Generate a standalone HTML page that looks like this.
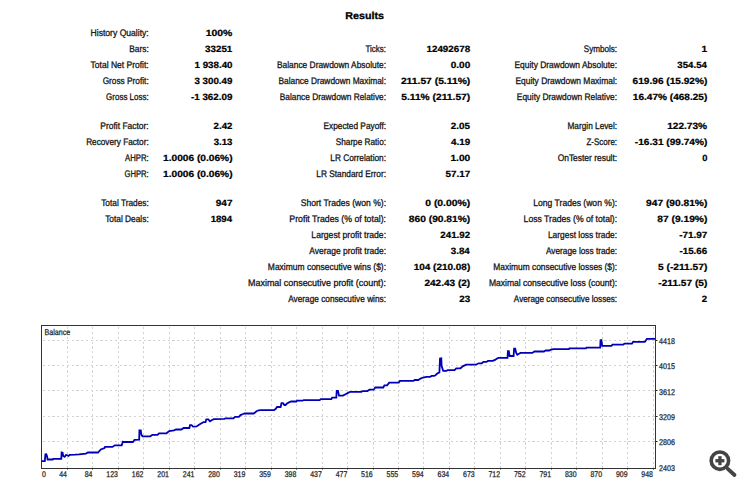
<!DOCTYPE html>
<html><head><meta charset="utf-8"><style>
html,body{margin:0;padding:0;background:#fff;}
body{width:750px;height:490px;overflow:hidden;position:relative;}
svg{position:absolute;left:0;top:0;}
text{font-family:"Liberation Sans",sans-serif;text-rendering:geometricPrecision;}
.l{font-size:9.5px;fill:#141414;stroke:#141414;stroke-width:0.3px;}
.v{font-size:9.1px;font-weight:bold;fill:#000;stroke:#000;stroke-width:0.22px;}
.t{font-size:10px;font-weight:bold;fill:#000;stroke:#000;stroke-width:0.3px;}
.ax{font-size:8.3px;fill:#1e1e1e;stroke:#1e1e1e;stroke-width:0.25px;}
.g{stroke:#d2d2d2;stroke-width:1;stroke-dasharray:2.2 2.6;shape-rendering:crispEdges;}
</style></head><body>
<svg width="750" height="490" viewBox="0 0 750 490">
<text class="t" transform="translate(364.6,18.8) scale(1.07,1)" text-anchor="middle">Results</text>
<text class="l" transform="translate(148.73,36) scale(0.9033,1)" text-anchor="end">History Quality:</text>
<text class="v" transform="translate(232.31,36) scale(1.1454,1)" text-anchor="end">100%</text>
<text class="l" transform="translate(148.72,52) scale(0.8798,1)" text-anchor="end">Bars:</text>
<text class="v" transform="translate(232.31,52) scale(1.0757,1)" text-anchor="end">33251</text>
<text class="l" transform="translate(148.73,68) scale(0.8956,1)" text-anchor="end">Total Net Profit:</text>
<text class="v" transform="translate(232.52,68) scale(1.0720,1)" text-anchor="end">1 938.40</text>
<text class="l" transform="translate(148.71,84) scale(0.8726,1)" text-anchor="end">Gross Profit:</text>
<text class="v" transform="translate(232.41,84) scale(1.0712,1)" text-anchor="end">3 300.49</text>
<text class="l" transform="translate(148.69,100) scale(0.8407,1)" text-anchor="end">Gross Loss:</text>
<text class="v" transform="translate(232.42,100) scale(1.0789,1)" text-anchor="end">-1 362.09</text>
<text class="l" transform="translate(385.99,52) scale(0.8397,1)" text-anchor="end">Ticks:</text>
<text class="v" transform="translate(470.12,52) scale(1.0779,1)" text-anchor="end">12492678</text>
<text class="l" transform="translate(386.02,68) scale(0.8822,1)" text-anchor="end">Balance Drawdown Absolute:</text>
<text class="v" transform="translate(470.23,68) scale(1.0994,1)" text-anchor="end">0.00</text>
<text class="l" transform="translate(386.01,84) scale(0.8779,1)" text-anchor="end">Balance Drawdown Maximal:</text>
<text class="v" transform="translate(470.24,84) scale(1.1334,1)" text-anchor="end">211.57 (5.11%)</text>
<text class="l" transform="translate(386.01,100) scale(0.8743,1)" text-anchor="end">Balance Drawdown Relative:</text>
<text class="v" transform="translate(470.24,100) scale(1.1283,1)" text-anchor="end">5.11% (211.57)</text>
<text class="l" transform="translate(617.10,52) scale(0.8530,1)" text-anchor="end">Symbols:</text>
<text class="v" transform="translate(707.11,52) scale(1.1111,1)" text-anchor="end">1</text>
<text class="l" transform="translate(617.12,68) scale(0.8880,1)" text-anchor="end">Equity Drawdown Absolute:</text>
<text class="v" transform="translate(706.89,68) scale(1.0612,1)" text-anchor="end">354.54</text>
<text class="l" transform="translate(617.12,84) scale(0.8878,1)" text-anchor="end">Equity Drawdown Maximal:</text>
<text class="v" transform="translate(707.33,84) scale(1.1109,1)" text-anchor="end">619.96 (15.92%)</text>
<text class="l" transform="translate(617.12,100) scale(0.8832,1)" text-anchor="end">Equity Drawdown Relative:</text>
<text class="v" transform="translate(707.33,100) scale(1.1083,1)" text-anchor="end">16.47% (468.25)</text>
<text class="l" transform="translate(148.72,129) scale(0.8906,1)" text-anchor="end">Profit Factor:</text>
<text class="v" transform="translate(232.41,129) scale(1.0636,1)" text-anchor="end">2.42</text>
<text class="l" transform="translate(148.71,145) scale(0.8648,1)" text-anchor="end">Recovery Factor:</text>
<text class="v" transform="translate(232.41,145) scale(1.0575,1)" text-anchor="end">3.13</text>
<text class="l" transform="translate(148.67,161) scale(0.8140,1)" text-anchor="end">AHPR:</text>
<text class="v" transform="translate(232.54,161) scale(1.1171,1)" text-anchor="end">1.0006 (0.06%)</text>
<text class="l" transform="translate(148.66,177) scale(0.8000,1)" text-anchor="end">GHPR:</text>
<text class="v" transform="translate(232.54,177) scale(1.1171,1)" text-anchor="end">1.0006 (0.06%)</text>
<text class="l" transform="translate(386.01,129) scale(0.8720,1)" text-anchor="end">Expected Payoff:</text>
<text class="v" transform="translate(470.01,129) scale(1.0862,1)" text-anchor="end">2.05</text>
<text class="l" transform="translate(386.01,145) scale(0.8651,1)" text-anchor="end">Sharpe Ratio:</text>
<text class="v" transform="translate(470.12,145) scale(1.0800,1)" text-anchor="end">4.19</text>
<text class="l" transform="translate(386.01,161) scale(0.8722,1)" text-anchor="end">LR Correlation:</text>
<text class="v" transform="translate(470.24,161) scale(1.1183,1)" text-anchor="end">1.00</text>
<text class="l" transform="translate(386.01,177) scale(0.8737,1)" text-anchor="end">LR Standard Error:</text>
<text class="v" transform="translate(470.23,177) scale(1.0852,1)" text-anchor="end">57.17</text>
<text class="l" transform="translate(617.11,129) scale(0.8707,1)" text-anchor="end">Margin Level:</text>
<text class="v" transform="translate(707.11,129) scale(1.1130,1)" text-anchor="end">122.73%</text>
<text class="l" transform="translate(617.09,145) scale(0.8399,1)" text-anchor="end">Z-Score:</text>
<text class="v" transform="translate(707.33,145) scale(1.1113,1)" text-anchor="end">-16.31 (99.74%)</text>
<text class="l" transform="translate(617.12,161) scale(0.8864,1)" text-anchor="end">OnTester result:</text>
<text class="v" transform="translate(707.31,161) scale(1.0222,1)" text-anchor="end">0</text>
<text class="l" transform="translate(148.71,206) scale(0.8731,1)" text-anchor="end">Total Trades:</text>
<text class="v" transform="translate(232.53,206) scale(1.1020,1)" text-anchor="end">947</text>
<text class="l" transform="translate(148.71,222) scale(0.8773,1)" text-anchor="end">Total Deals:</text>
<text class="v" transform="translate(232.09,222) scale(1.0603,1)" text-anchor="end">1894</text>
<text class="l" transform="translate(386.03,206) scale(0.9027,1)" text-anchor="end">Short Trades (won %):</text>
<text class="v" transform="translate(470.24,206) scale(1.1414,1)" text-anchor="end">0 (0.00%)</text>
<text class="l" transform="translate(386.04,222) scale(0.9200,1)" text-anchor="end">Profit Trades (% of total):</text>
<text class="v" transform="translate(470.24,222) scale(1.1238,1)" text-anchor="end">860 (90.81%)</text>
<text class="l" transform="translate(386.03,238) scale(0.9062,1)" text-anchor="end">Largest profit trade:</text>
<text class="v" transform="translate(470.11,238) scale(1.0693,1)" text-anchor="end">241.92</text>
<text class="l" transform="translate(386.03,254) scale(0.8946,1)" text-anchor="end">Average profit trade:</text>
<text class="v" transform="translate(469.79,254) scale(1.0734,1)" text-anchor="end">3.84</text>
<text class="l" transform="translate(386.02,270) scale(0.8918,1)" text-anchor="end">Maximum consecutive wins ($):</text>
<text class="v" transform="translate(470.23,270) scale(1.0965,1)" text-anchor="end">104 (210.08)</text>
<text class="l" transform="translate(386.06,286) scale(0.9404,1)" text-anchor="end">Maximal consecutive profit (count):</text>
<text class="v" transform="translate(470.23,286) scale(1.1049,1)" text-anchor="end">242.43 (2)</text>
<text class="l" transform="translate(386.01,302) scale(0.8712,1)" text-anchor="end">Average consecutive wins:</text>
<text class="v" transform="translate(470.12,302) scale(1.0825,1)" text-anchor="end">23</text>
<text class="l" transform="translate(617.13,206) scale(0.9017,1)" text-anchor="end">Long Trades (won %):</text>
<text class="v" transform="translate(707.34,206) scale(1.1220,1)" text-anchor="end">947 (90.81%)</text>
<text class="l" transform="translate(617.14,222) scale(0.9085,1)" text-anchor="end">Loss Trades (% of total):</text>
<text class="v" transform="translate(707.34,222) scale(1.1250,1)" text-anchor="end">87 (9.19%)</text>
<text class="l" transform="translate(617.12,238) scale(0.8854,1)" text-anchor="end">Largest loss trade:</text>
<text class="v" transform="translate(707.33,238) scale(1.0909,1)" text-anchor="end">-71.97</text>
<text class="l" transform="translate(617.11,254) scale(0.8718,1)" text-anchor="end">Average loss trade:</text>
<text class="v" transform="translate(707.21,254) scale(1.0748,1)" text-anchor="end">-15.66</text>
<text class="l" transform="translate(617.12,270) scale(0.8814,1)" text-anchor="end">Maximum consecutive losses ($):</text>
<text class="v" transform="translate(707.34,270) scale(1.1218,1)" text-anchor="end">5 (-211.57)</text>
<text class="l" transform="translate(617.13,286) scale(0.8995,1)" text-anchor="end">Maximal consecutive loss (count):</text>
<text class="v" transform="translate(707.33,286) scale(1.1149,1)" text-anchor="end">-211.57 (5)</text>
<text class="l" transform="translate(617.10,302) scale(0.8588,1)" text-anchor="end">Average consecutive losses:</text>
<text class="v" transform="translate(707.21,302) scale(1.0652,1)" text-anchor="end">2</text>
<g>
<line x1="67.5" y1="325" x2="67.5" y2="468" class="g" stroke-dashoffset="-2.2"/>
<line x1="92.5" y1="325" x2="92.5" y2="468" class="g" stroke-dashoffset="-2.2"/>
<line x1="118.5" y1="325" x2="118.5" y2="468" class="g" stroke-dashoffset="-2.2"/>
<line x1="143.5" y1="325" x2="143.5" y2="468" class="g" stroke-dashoffset="-2.2"/>
<line x1="169.5" y1="325" x2="169.5" y2="468" class="g" stroke-dashoffset="-2.2"/>
<line x1="194.5" y1="325" x2="194.5" y2="468" class="g" stroke-dashoffset="-2.2"/>
<line x1="220.5" y1="325" x2="220.5" y2="468" class="g" stroke-dashoffset="-2.2"/>
<line x1="245.5" y1="325" x2="245.5" y2="468" class="g" stroke-dashoffset="-2.2"/>
<line x1="271.5" y1="325" x2="271.5" y2="468" class="g" stroke-dashoffset="-2.2"/>
<line x1="296.5" y1="325" x2="296.5" y2="468" class="g" stroke-dashoffset="-2.2"/>
<line x1="322.5" y1="325" x2="322.5" y2="468" class="g" stroke-dashoffset="-2.2"/>
<line x1="347.5" y1="325" x2="347.5" y2="468" class="g" stroke-dashoffset="-2.2"/>
<line x1="373.5" y1="325" x2="373.5" y2="468" class="g" stroke-dashoffset="-2.2"/>
<line x1="398.5" y1="325" x2="398.5" y2="468" class="g" stroke-dashoffset="-2.2"/>
<line x1="423.5" y1="325" x2="423.5" y2="468" class="g" stroke-dashoffset="-2.2"/>
<line x1="449.5" y1="325" x2="449.5" y2="468" class="g" stroke-dashoffset="-2.2"/>
<line x1="474.5" y1="325" x2="474.5" y2="468" class="g" stroke-dashoffset="-2.2"/>
<line x1="500.5" y1="325" x2="500.5" y2="468" class="g" stroke-dashoffset="-2.2"/>
<line x1="525.5" y1="325" x2="525.5" y2="468" class="g" stroke-dashoffset="-2.2"/>
<line x1="551.5" y1="325" x2="551.5" y2="468" class="g" stroke-dashoffset="-2.2"/>
<line x1="576.5" y1="325" x2="576.5" y2="468" class="g" stroke-dashoffset="-2.2"/>
<line x1="602.5" y1="325" x2="602.5" y2="468" class="g" stroke-dashoffset="-2.2"/>
<line x1="627.5" y1="325" x2="627.5" y2="468" class="g" stroke-dashoffset="-2.2"/>
<line x1="653.5" y1="325" x2="653.5" y2="468" class="g" stroke-dashoffset="-2.2"/>
<line x1="41" y1="340.5" x2="655" y2="340.5" class="g" stroke-dashoffset="-1.7"/>
<line x1="41" y1="365.5" x2="655" y2="365.5" class="g" stroke-dashoffset="-1.7"/>
<line x1="41" y1="390.5" x2="655" y2="390.5" class="g" stroke-dashoffset="-1.7"/>
<line x1="41" y1="416.5" x2="655" y2="416.5" class="g" stroke-dashoffset="-1.7"/>
<line x1="41" y1="441.5" x2="655" y2="441.5" class="g" stroke-dashoffset="-1.7"/>
<rect x="41.5" y="325.5" width="614" height="143" fill="none" stroke="#333" stroke-width="1" shape-rendering="crispEdges"/>
<rect x="67" y="468" width="1" height="1.5" fill="#222"/>
<rect x="92" y="468" width="1" height="1.5" fill="#222"/>
<rect x="118" y="468" width="1" height="1.5" fill="#222"/>
<rect x="143" y="468" width="1" height="1.5" fill="#222"/>
<rect x="169" y="468" width="1" height="1.5" fill="#222"/>
<rect x="194" y="468" width="1" height="1.5" fill="#222"/>
<rect x="220" y="468" width="1" height="1.5" fill="#222"/>
<rect x="245" y="468" width="1" height="1.5" fill="#222"/>
<rect x="271" y="468" width="1" height="1.5" fill="#222"/>
<rect x="296" y="468" width="1" height="1.5" fill="#222"/>
<rect x="322" y="468" width="1" height="1.5" fill="#222"/>
<rect x="347" y="468" width="1" height="1.5" fill="#222"/>
<rect x="373" y="468" width="1" height="1.5" fill="#222"/>
<rect x="398" y="468" width="1" height="1.5" fill="#222"/>
<rect x="423" y="468" width="1" height="1.5" fill="#222"/>
<rect x="449" y="468" width="1" height="1.5" fill="#222"/>
<rect x="474" y="468" width="1" height="1.5" fill="#222"/>
<rect x="500" y="468" width="1" height="1.5" fill="#222"/>
<rect x="525" y="468" width="1" height="1.5" fill="#222"/>
<rect x="551" y="468" width="1" height="1.5" fill="#222"/>
<rect x="576" y="468" width="1" height="1.5" fill="#222"/>
<rect x="602" y="468" width="1" height="1.5" fill="#222"/>
<rect x="627" y="468" width="1" height="1.5" fill="#222"/>
<rect x="653" y="468" width="1" height="1.5" fill="#222"/>
<rect x="656" y="340" width="1.5" height="1" fill="#222"/>
<rect x="656" y="365" width="1.5" height="1" fill="#222"/>
<rect x="656" y="390" width="1.5" height="1" fill="#222"/>
<rect x="656" y="416" width="1.5" height="1" fill="#222"/>
<rect x="656" y="441" width="1.5" height="1" fill="#222"/>
<text class="ax" transform="translate(44.5,335) scale(0.86,1)">Balance</text>
<polyline points="41.3,461.1 44.8,461.1 45.4,454.4 46.3,454.3 47,456 47.6,459.5 52.8,459.5 53.3,458.8 61.3,458.8 61.6,452.5 62.6,452.8 63.2,456 64.7,456.9 66.1,454.8 67,455.2 68.5,456 69.6,454.8 75,454.6 79,454.3 85.9,453.6 88,452.5 98,452.5 100.8,449.5 104.5,448 105,446.9 112.5,446.9 114.7,445.3 121.7,445.3 122.8,441.8 123.9,442 132.9,442 134.5,439.8 139.2,439.6 139.4,430.3 140.8,430.3 141.3,434.6 142.5,436.3 150.4,436.3 152.3,434.9 157.5,434.9 159,433.3 166.5,433.3 169.2,431.1 174,430.4 176.1,429.5 181.5,429.5 183.6,428 189.4,428 190,425.2 191.6,425.2 193,426.6 196.6,426.4 199,424.8 201.5,423.3 203.5,422.2 205.5,422.2 206.3,419.3 208.3,419.3 210,421.3 212,420 214,419.1 224.5,418.8 225.5,418.3 233.5,418.3 235.1,416.9 238.9,416.9 240.5,415.1 243.1,414 244.7,413.5 253.8,413.5 256.5,411.3 258.6,410.3 260.7,410.2 274,410.2 275.8,408.8 277,407 280.6,407 281.5,403.2 283,403.2 284.4,405 285.5,405 287,403.5 289,402.4 291.2,401.5 296.4,401.5 297,400.7 302.7,400.7 303.7,400.1 319.7,400.1 320.8,399.1 331.4,399 332.2,397.6 336.3,397.6 336.7,391 338,391 339,395.6 343,395.6 345.5,394.2 348.5,392.6 350.3,391.8 361.5,391.8 362.5,391.1 367.3,391.1 369.5,389.7 373.7,389.7 375.3,387.5 383.3,387.5 384.4,385.4 387.1,385.4 389.2,382.6 398.8,382.6 399.9,380.9 413.5,380.9 414.6,380 418.3,380 420.5,378.6 423.1,377.5 426.3,376.8 430.1,376.8 431.7,375.9 434.3,375.9 436,374.7 437.5,373.3 439.4,372.5 440,358.5 441.3,358.3 441.6,366 443.2,370.8 446.6,370.8 447.7,370.1 454.6,370.1 456.2,368.3 460.5,368.3 463.1,366.1 466.3,364.7 475.9,364.7 478.6,363.3 481.8,363.3 483.4,361.9 486.4,361.9 488,360.9 492.8,360.9 495,359.9 497,358.6 498.7,357.8 507.5,357.8 507.9,351.1 508.8,351.1 509.6,356 513.6,356 514.1,348.7 515.2,348.7 516.2,353 517.3,354.8 518.5,354 520.6,352.9 532.3,352.9 534.4,351.5 544,351.5 545.6,350.5 549.3,350.5 551,349.7 553.6,349.1 568.9,349.1 569.4,348.3 585.9,348.3 586.5,347.6 600.2,347.6 600.5,340.3 601.4,340.1 602.2,345.8 611.5,345.8 612.4,344.7 623.3,344.7 624.4,343.7 632,343.7 633,341.9 644.8,341.9 646.9,338.9 655,338.9" fill="none" stroke="#0000b8" stroke-width="1.8" stroke-linejoin="miter" stroke-miterlimit="2"/>
<text class="ax" transform="translate(42,477) scale(0.84,1)">0</text>
<text class="ax" transform="translate(67.00,477) scale(0.84,1)" text-anchor="end">44</text>
<text class="ax" transform="translate(92.48,477) scale(0.84,1)" text-anchor="end">84</text>
<text class="ax" transform="translate(117.95,477) scale(0.84,1)" text-anchor="end">123</text>
<text class="ax" transform="translate(143.43,477) scale(0.84,1)" text-anchor="end">162</text>
<text class="ax" transform="translate(168.91,477) scale(0.84,1)" text-anchor="end">201</text>
<text class="ax" transform="translate(194.39,477) scale(0.84,1)" text-anchor="end">241</text>
<text class="ax" transform="translate(219.87,477) scale(0.84,1)" text-anchor="end">280</text>
<text class="ax" transform="translate(245.34,477) scale(0.84,1)" text-anchor="end">319</text>
<text class="ax" transform="translate(270.82,477) scale(0.84,1)" text-anchor="end">359</text>
<text class="ax" transform="translate(296.30,477) scale(0.84,1)" text-anchor="end">398</text>
<text class="ax" transform="translate(321.78,477) scale(0.84,1)" text-anchor="end">437</text>
<text class="ax" transform="translate(347.26,477) scale(0.84,1)" text-anchor="end">477</text>
<text class="ax" transform="translate(372.73,477) scale(0.84,1)" text-anchor="end">516</text>
<text class="ax" transform="translate(398.21,477) scale(0.84,1)" text-anchor="end">555</text>
<text class="ax" transform="translate(423.69,477) scale(0.84,1)" text-anchor="end">594</text>
<text class="ax" transform="translate(449.17,477) scale(0.84,1)" text-anchor="end">634</text>
<text class="ax" transform="translate(474.65,477) scale(0.84,1)" text-anchor="end">673</text>
<text class="ax" transform="translate(500.12,477) scale(0.84,1)" text-anchor="end">712</text>
<text class="ax" transform="translate(525.60,477) scale(0.84,1)" text-anchor="end">752</text>
<text class="ax" transform="translate(551.08,477) scale(0.84,1)" text-anchor="end">791</text>
<text class="ax" transform="translate(576.56,477) scale(0.84,1)" text-anchor="end">830</text>
<text class="ax" transform="translate(602.04,477) scale(0.84,1)" text-anchor="end">870</text>
<text class="ax" transform="translate(627.51,477) scale(0.84,1)" text-anchor="end">909</text>
<text class="ax" transform="translate(652.99,477) scale(0.84,1)" text-anchor="end">948</text>
<text class="ax" transform="translate(659,343.80) scale(0.86,1)">4418</text>
<text class="ax" transform="translate(659,369.20) scale(0.86,1)">4015</text>
<text class="ax" transform="translate(659,394.60) scale(0.86,1)">3612</text>
<text class="ax" transform="translate(659,420.00) scale(0.86,1)">3209</text>
<text class="ax" transform="translate(659,445.40) scale(0.86,1)">2806</text>
<text class="ax" transform="translate(659,471.30) scale(0.86,1)">2403</text>
</g>
<g fill="none" stroke="#444" stroke-linecap="round">
<circle cx="719.9" cy="460.7" r="8.7" stroke-width="3.6"/>
<line x1="727.8" y1="468.8" x2="734.5" y2="475" stroke-width="3.8"/>
</g>
<g fill="#444">
<rect x="715.4" y="459.1" width="9" height="3.3"/>
<rect x="718.3" y="456.2" width="3.3" height="9"/>
</g>
</svg>
</body></html>
